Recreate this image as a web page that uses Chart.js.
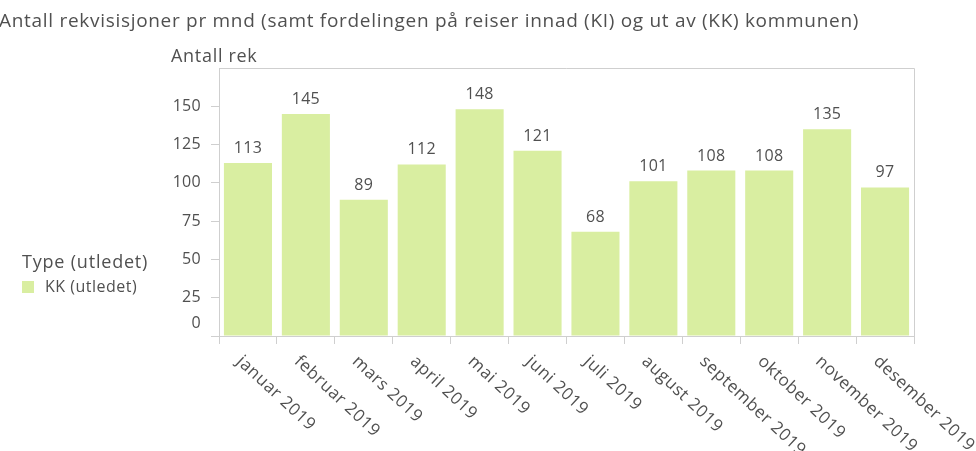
<!DOCTYPE html>
<html>
<head>
<meta charset="utf-8">
<script src="https://cdn.jsdelivr.net/npm/chart.js@4"></script>
<style>
  html, body { margin: 0; padding: 0; background: #fff; }
  #wrap { width: 976px; height: 451px; position: relative; }
</style>
</head>
<body>
<div id="wrap"><canvas id="chart" width="976" height="451"></canvas></div>
<script>
const months = ['januar 2019', 'februar 2019', 'mars 2019', 'april 2019', 'mai 2019', 'juni 2019',
  'juli 2019', 'august 2019', 'september 2019', 'oktober 2019', 'november 2019', 'desember 2019'];
const kkValues = [113, 145, 89, 112, 148, 121, 68, 101, 108, 108, 135, 97];
const yTicks = [0, 25, 50, 75, 100, 125, 150];
const seriesName = 'KK (utledet)';
const legendTitle = 'Type (utledet)';
const chartTitle = 'Antall rekvisisjoner pr mnd (samt fordelingen på reiser innad (KI) og ut av (KK) kommunen)';
const yTitle = 'Antall rek';

const barColor = '#d9eea1';
const textColor = '#505050';
const lineColor = '#cfcfcf';
const font = '"Open Sans", Lato, sans-serif';

// draws the frame, labels, legend and titles
const decor = {
  id: 'decor',
  afterDraw(chart) {
    const c = chart.ctx;
    const a = chart.chartArea;
    const x = chart.scales.x;
    const y = chart.scales.y;
    c.save();

    // frame top + right
    c.strokeStyle = lineColor;
    c.lineWidth = 1;
    c.beginPath();
    c.moveTo(a.left, a.top + 0.5);
    c.lineTo(a.right + 0.5, a.top + 0.5);
    c.lineTo(a.right + 0.5, a.bottom);
    c.stroke();

    c.fillStyle = textColor;

    // title
    c.font = '19px ' + font;
    c.letterSpacing = '0.7px';
    c.textAlign = 'left';
    c.textBaseline = 'alphabetic';
    c.fillText(chartTitle, -1, 27);

    // y title
    c.font = '18px ' + font;
    c.fillText(yTitle, 171, 62);

    // y tick labels
    c.letterSpacing = '0.3px';
    c.font = '16px ' + font;
    c.textAlign = 'right';
    c.textBaseline = 'middle';
    yTicks.forEach(v => {
      let py = y.getPixelForValue(v);
      if (v === 0) py -= 13;
      c.fillText(String(v), 201, py);
    });

    // value labels
    c.textAlign = 'center';
    c.textBaseline = 'alphabetic';
    const meta = chart.getDatasetMeta(0);
    meta.data.forEach((bar, i) => {
      c.fillText(String(kkValues[i]), bar.x, bar.y - 10);
    });

    // x labels rotated
    c.font = '17px ' + font;
    c.letterSpacing = '0.6px';
    c.textAlign = 'left';
    c.textBaseline = 'middle';
    months.forEach((m, i) => {
      const px = x.getPixelForTick(i);
      c.save();
      c.translate(px - 9, a.bottom + 23);
      c.rotate(43 * Math.PI / 180);
      c.fillText(m, 0, 0);
      c.restore();
    });

    // legend
    c.font = '18px ' + font;
    c.letterSpacing = '0.8px';
    c.textAlign = 'left';
    c.textBaseline = 'middle';
    c.fillText(legendTitle, 22, 263);
    c.fillStyle = barColor;
    c.fillRect(22, 281, 12, 12);
    c.fillStyle = textColor;
    c.font = '16px ' + font;
    c.letterSpacing = '0.5px';
    c.fillText(seriesName, 45, 287);

    c.restore();
  }
};

new Chart(document.getElementById('chart').getContext('2d'), {
  type: 'bar',
  data: {
    labels: months,
    datasets: [{
      label: seriesName,
      data: kkValues,
      backgroundColor: barColor,
      borderWidth: 0,
      barPercentage: 0.83,
      categoryPercentage: 1
    }]
  },
  options: {
    responsive: false,
    animation: false,
    layout: { padding: { left: 211, top: 68, right: 62, bottom: 107 } },
    plugins: {
      legend: { display: false },
      title: { display: false },
      tooltip: { enabled: false }
    },
    scales: {
      x: {
        grid: { drawOnChartArea: false, drawTicks: true, tickLength: 8, color: lineColor },
        border: { display: true, color: lineColor },
        ticks: { display: false }
      },
      y: {
        min: 0,
        max: 175,
        afterBuildTicks: s => { s.ticks = yTicks.map(v => ({ value: v })); },
        grid: { drawOnChartArea: false, drawTicks: true, tickLength: 8, color: lineColor },
        border: { display: true, color: lineColor },
        ticks: { display: false }
      }
    }
  },
  plugins: [decor]
});
</script>
</body>
</html>
